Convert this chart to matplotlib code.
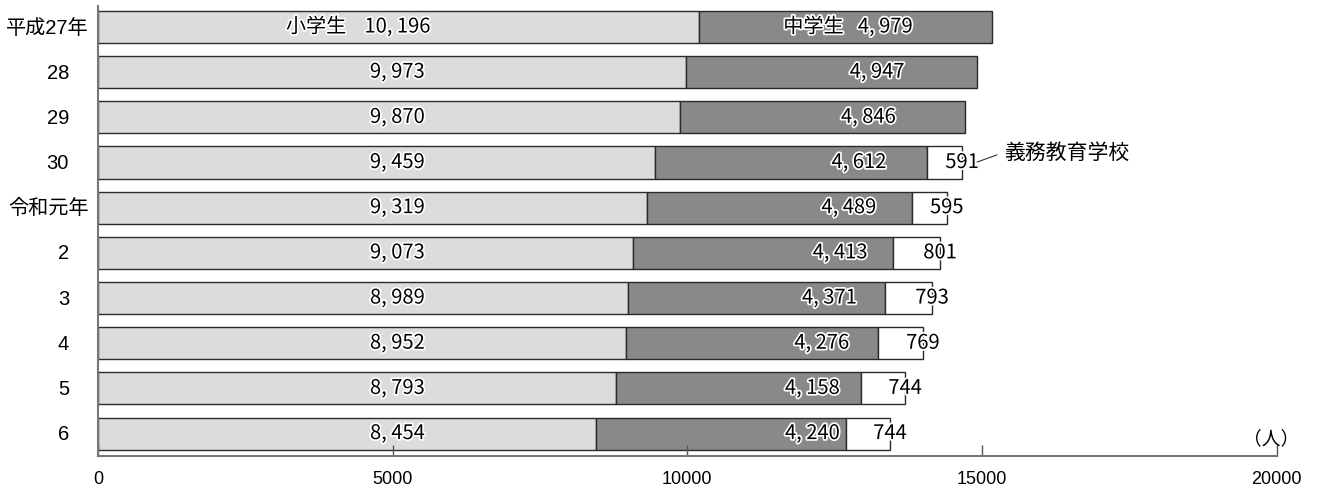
import matplotlib
matplotlib.use('Agg')
import matplotlib.pyplot as plt
import matplotlib.patheffects as pe
from matplotlib.transforms import offset_copy
import numpy as np

plt.rcParams['font.family'] = ['Liberation Sans', 'Noto Sans CJK JP', 'DejaVu Sans']

years = ['平成27年', '28', '29', '30', '令和元年', '2', '3', '4', '5', '6']
elementary = [10196, 9973, 9870, 9459, 9319, 9073, 8989, 8952, 8793, 8454]
junior_high = [4979, 4947, 4846, 4612, 4489, 4413, 4371, 4276, 4158, 4240]
compulsory = [0, 0, 0, 591, 595, 801, 793, 769, 744, 744]

# label anchors (x, data units)
elem_label_x = 5080
junior_label_x = [13360, 13220, 13070, 12910, 12740, 12590, 12410, 12280, 12120, 12120]

fig = plt.figure(figsize=(13.19, 4.89), dpi=100)
ax = fig.add_axes([98 / 1319, 32.3 / 489, (1276.7 - 98) / 1319, (482 - 32.3) / 489])

y = np.arange(len(years))
elementary = np.array(elementary)
junior_high = np.array(junior_high)
compulsory = np.array(compulsory)
h = 0.71
ec = '#2a2a2a'

ax.barh(y, elementary, height=h, color='#dcdcdc', edgecolor=ec, linewidth=1)
ax.barh(y, junior_high, left=elementary, height=h, color='#898989', edgecolor=ec, linewidth=1)
mask = compulsory > 0
ax.barh(y[mask], compulsory[mask], left=(elementary + junior_high)[mask], height=h,
        color='white', edgecolor=ec, linewidth=1)

ax.set_xlim(0, 20000)
ax.set_ylim(len(years) - 1 + 0.49, -0.465)

num_font = ['Liberation Sans Narrow', 'Noto Sans CJK JP', 'DejaVu Sans']
cjk = ['Noto Sans CJK JP']
halo = [pe.withStroke(linewidth=2.5, foreground='white')]


def fmt(v):
    return '{:,}'.format(v).replace(',', ', ')


for i in range(len(years)):
    ax.text(elem_label_x, y[i], fmt(elementary[i]), ha='center', va='center',
            fontsize=14.5, family=num_font, path_effects=halo)
    ax.text(junior_label_x[i], y[i], fmt(junior_high[i]), ha='center', va='center',
            fontsize=14.5, family=num_font, path_effects=halo)
    if compulsory[i] > 0:
        ax.text(elementary[i] + junior_high[i] + compulsory[i], y[i], str(compulsory[i]),
                ha='center', va='center', fontsize=14.5, family=num_font, path_effects=halo)

# series names in the first row
ax.text(3700, 0, '小学生', ha='center', va='center', fontsize=14.5,
        family=cjk, path_effects=halo)
ax.text(12140, 0, '中学生', ha='center', va='center', fontsize=14.5,
        family=cjk, path_effects=halo)

# callout for 義務教育学校
end30 = elementary[3] + junior_high[3] + compulsory[3]
ax.annotate('', xy=(end30 + 254, 2.99), xytext=(end30 + 593, 2.83),
            arrowprops=dict(arrowstyle='-', color='#333333', lw=0.8,
                            shrinkA=0, shrinkB=0))
ax.text(end30 + 729, 2.77, '義務教育学校', ha='left', va='center', fontsize=15,
        family=cjk)

ax.text(19900, 9.1, '（人）', ha='center', va='center', fontsize=13.5, family=cjk)

# y labels drawn by hand so short ones sit left of the long ones
ax.set_yticks([])
for i, lab in enumerate(years):
    dx = -9 if len(lab) > 2 else -29
    tr = offset_copy(ax.get_yaxis_transform(), fig=fig, x=dx, y=0, units='dots')
    ax.text(0, y[i], lab, transform=tr, ha='right', va='center', fontsize=14.5,
            family=['Liberation Sans', 'Noto Sans CJK JP'])

ax.set_xticks([0, 5000, 10000, 15000, 20000])
ax.tick_params(axis='x', direction='in', length=8, width=1, color='#555555',
               labelsize=13, pad=10)
for s in ['top', 'right']:
    ax.spines[s].set_visible(False)
ax.spines['left'].set_color('#777777')
ax.spines['bottom'].set_color('#777777')
ax.spines['left'].set_linewidth(1.5)
ax.spines['bottom'].set_linewidth(1.5)

fig.savefig('out.png', dpi=100)
